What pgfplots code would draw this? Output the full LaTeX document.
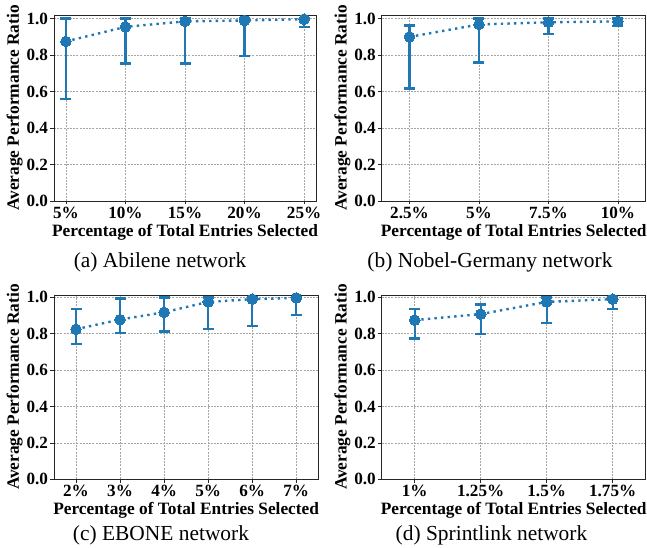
\documentclass[border=0pt]{standalone}
\usepackage{pgfplots}
\pgfplotsset{compat=1.18}
\usepackage{pgfplotstable}
\usepackage{fontspec}
\setmainfont{Liberation Serif}
\definecolor{mplblue}{HTML}{1F77B4}

\pgfplotstableread{
x y ep em
0 0.875 0.125 0.315
1 0.955 0.045 0.200
2 0.985 0.015 0.230
3 0.990 0.010 0.195
4 0.997 0.003 0.042
}\dataA
\pgfplotstableread{
x y ep em
0 0.900 0.063 0.282
1 0.968 0.032 0.208
2 0.980 0.020 0.065
3 0.985 0.015 0.025
}\dataB
\pgfplotstableread{
x y ep em
0 0.825 0.110 0.080
1 0.878 0.115 0.073
2 0.918 0.082 0.106
3 0.975 0.025 0.150
4 0.990 0.010 0.147
5 0.997 0.003 0.094
}\dataC
\pgfplotstableread{
x y ep em
0 0.875 0.062 0.102
1 0.908 0.052 0.108
2 0.975 0.025 0.115
3 0.990 0.010 0.053
}\dataD

\pgfplotsset{
  subp/.style={
    scale only axis,
    anchor=south west,
    ymin=0, ymax=1.02,
    ytick={0,0.2,0.4,0.6,0.8,1.0},
    yticklabel style={/pgf/number format/fixed, /pgf/number format/fixed zerofill, /pgf/number format/precision=1},
    /pgf/number format/assume math mode=true,
    ticklabel style={font=\fontsize{17.2}{17}\selectfont\bfseries},
    label style={font=\fontsize{17.4}{17}\selectfont\bfseries},
    xtick=data,
    grid=major,
    major grid style={dash pattern=on 2bp off 1.2bp, black!35, line width=0.6bp},
    axis line style={black!85, line width=0.9bp},
    tick style={black!85, line width=0.8bp},
    tick align=outside,
    major tick length=3.5bp,
    xtick pos=bottom, ytick pos=left,
    xlabel={Percentage of Total Entries Selected},
    ylabel={Average Performance Ratio},
    xlabel style={yshift=1.5bp},
    ylabel style={yshift=-3bp},
    xticklabel style={yshift=1bp},
    yticklabel style={xshift=1bp},
  },
  ser/.style={
    mplblue, line width=2.4bp, dash pattern=on 2.4bp off 4.2bp, line cap=butt,
    mark=*, mark size=5.3bp, mark options={solid, fill=mplblue, draw=mplblue, line width=0pt},
    error bars/.cd, y dir=both, y explicit,
    error bar style={line width=2.4bp, solid, mplblue},
    error mark options={rotate=90, mark size=5.5bp, line width=2.4bp, solid, mplblue},
  },
}

\begin{document}
\begin{tikzpicture}
\useasboundingbox (0bp,0bp) rectangle (647bp,548bp);

\begin{axis}[subp, at={(54bp,347bp)}, width=262bp, height=186bp,
  xmin=-0.2, xmax=4.2,
  xticklabels={5\%,10\%,15\%,20\%,25\%}]
\addplot[ser] table[x=x,y=y,y error plus=ep,y error minus=em]{\dataA};
\end{axis}

\begin{axis}[subp, at={(381.7bp,347bp)}, width=264bp, height=186bp,
  xmin=-0.4, xmax=3.4,
  xticklabels={2.5\%,5\%,7.5\%,10\%}]
\addplot[ser] table[x=x,y=y,y error plus=ep,y error minus=em]{\dataB};
\end{axis}

\begin{axis}[subp, at={(54bp,68.7bp)}, width=264.3bp, height=184.3bp, ymax=1.013,
  xmin=-0.5, xmax=5.5,
  xticklabels={2\%,3\%,4\%,5\%,6\%,7\%}]
\addplot[ser] table[x=x,y=y,y error plus=ep,y error minus=em]{\dataC};
\end{axis}

\begin{axis}[subp, at={(381.7bp,68.7bp)}, width=264bp, height=184.3bp, ymax=1.013,
  xmin=-0.5, xmax=3.5,
  xticklabels={1\%,1.25\%,1.5\%,1.75\%}]
\addplot[ser] table[x=x,y=y,y error plus=ep,y error minus=em]{\dataD};
\end{axis}

\node[anchor=base, font=\fontsize{21.5}{24}\selectfont] at (160bp,280.7bp) {(a) Abilene network};
\node[anchor=base, font=\fontsize{21.5}{24}\selectfont] at (490bp,280.7bp) {(b) Nobel-Germany network};
\node[anchor=base, font=\fontsize{21.5}{24}\selectfont] at (161bp,8bp) {(c) EBONE network};
\node[anchor=base, font=\fontsize{21.5}{24}\selectfont] at (491.5bp,8bp) {(d) Sprintlink network};
\end{tikzpicture}
\end{document}
